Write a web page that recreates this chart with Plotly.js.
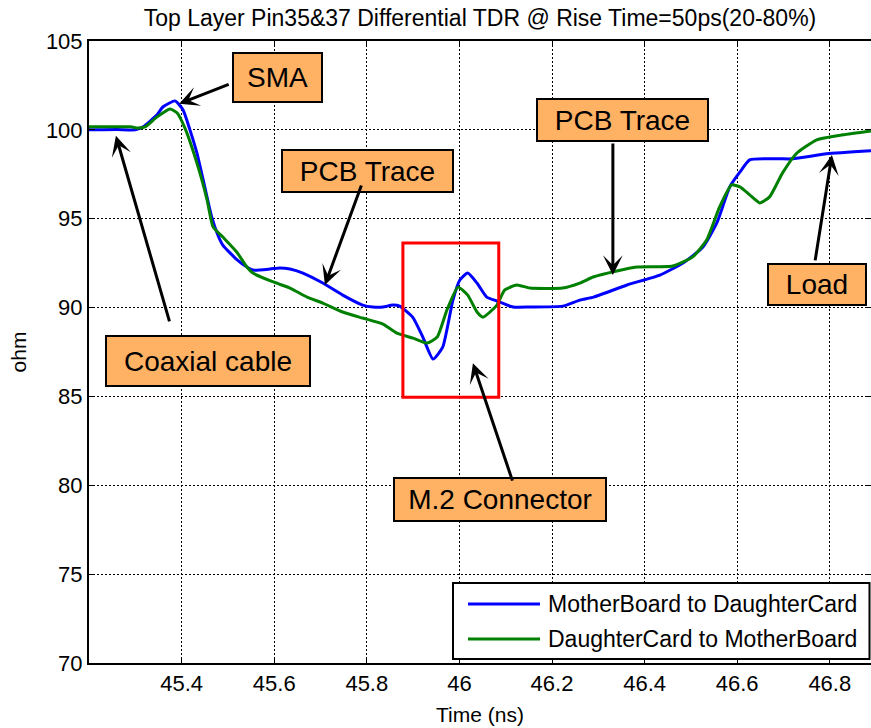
<!DOCTYPE html>
<html><head><meta charset="utf-8">
<script src="https://cdn.plot.ly/plotly-3.0.1.min.js"></script>
<style>html,body{margin:0;padding:0;background:#fff}#chart{width:871px;height:728px}</style>
</head><body><div id="chart"></div>
<script>
const chartTitle = 'Top Layer Pin35&37 Differential TDR @ Rise Time=50ps(20-80%)';
const xTitle = 'Time (ns)';
const yTitle = 'ohm';
const seriesNames = ['MotherBoard to DaughterCard', 'DaughterCard to MotherBoard'];
const seriesColors = ['#0000FF', '#008000'];

const mbTime = [45.200, 45.260, 45.300, 45.317, 45.347, 45.360, 45.386, 45.403, 45.418, 45.433, 45.450, 45.465, 45.478, 45.489, 45.520, 45.541, 45.554, 45.591, 45.612, 45.634, 45.662, 45.705, 45.748, 45.791, 45.813, 45.835, 45.856, 45.871, 45.899, 45.921, 45.943, 45.964, 45.986, 46.001, 46.018, 46.038, 46.059, 46.081, 46.116, 46.152, 46.223, 46.260, 46.290, 46.362, 46.433, 46.483, 46.526, 46.556, 46.584, 46.606, 46.627, 46.686, 46.720, 46.793, 46.889];
const mbOhm  = [100.00, 100.02, 100.00, 100.17, 100.85, 101.30, 101.63, 101.13, 100.00, 98.70, 96.79, 95.10, 94.10, 93.52, 92.68, 92.28, 92.11, 92.17, 92.23, 92.17, 91.94, 91.38, 90.70, 90.14, 90.03, 90.03, 90.14, 90.08, 89.46, 88.34, 87.10, 87.77, 90.42, 91.55, 91.94, 91.38, 90.59, 90.37, 90.03, 90.03, 90.08, 90.42, 90.59, 91.27, 91.83, 92.51, 93.41, 94.76, 96.79, 97.63, 98.31, 98.37, 98.37, 98.65, 98.82];

const dcTime = [45.200, 45.290, 45.305, 45.321, 45.347, 45.375, 45.390, 45.407, 45.433, 45.455, 45.468, 45.489, 45.519, 45.541, 45.554, 45.598, 45.634, 45.671, 45.705, 45.748, 45.791, 45.835, 45.865, 45.900, 45.930, 45.952, 45.973, 45.997, 46.018, 46.038, 46.051, 46.081, 46.098, 46.124, 46.152, 46.223, 46.260, 46.289, 46.340, 46.383, 46.461, 46.504, 46.534, 46.562, 46.588, 46.606, 46.627, 46.649, 46.670, 46.698, 46.729, 46.772, 46.828, 46.889];
const dcOhm  = [100.17, 100.17, 100.10, 100.17, 100.73, 101.18, 100.96, 100.11, 98.14, 96.06, 94.54, 93.97, 93.13, 92.28, 91.94, 91.44, 91.10, 90.59, 90.25, 89.75, 89.41, 89.07, 88.56, 88.28, 88.00, 88.34, 89.86, 91.15, 90.70, 89.75, 89.46, 90.14, 90.99, 91.27, 91.10, 91.10, 91.38, 91.72, 92.06, 92.28, 92.34, 92.85, 93.80, 95.66, 96.90, 96.79, 96.34, 95.89, 96.23, 97.58, 98.70, 99.44, 99.72, 99.94];

const xTickVals = [45.4, 45.6, 45.8, 46.0, 46.2, 46.4, 46.6, 46.8];
const xTickText = ['45.4', '45.6', '45.8', '46', '46.2', '46.4', '46.6', '46.8'];
const yTickVals = [70, 75, 80, 85, 90, 95, 100, 105];
const xRange = [45.2, 46.889];
const yRange = [70, 105];

// callout labels and what they point at (time, ohm)
const calloutLabels = ['SMA', 'PCB Trace', 'PCB Trace', 'Coaxial cable', 'M.2 Connector', 'Load'];
const calloutTargetTime = [45.3948, 45.7095, 46.3315, 45.2581, 46.0292, 46.8046];
const calloutTargetOhm  = [101.465, 91.268, 91.831, 99.662, 86.873, 98.592];
// connector region highlighted
const boxTime = [45.878, 46.085];
const boxOhm = [84.96, 93.63];

// ---- layout geometry (pixels) ----
const W = 871, H = 728, ML = 89, MR = 0, MT = 41, MB = 65;
const PW = W - ML - MR, PH = H - MT - MB;
const px = x => (x - ML) / PW;
const py = y => (H - MB - y) / PH;

// box pixel rects [x0,x1,y0,y1] for callouts
const calloutBoxes = [
  [232, 323, 52, 103],
  [281, 454, 149, 193],
  [536, 709, 98, 142],
  [105, 311, 335, 387],
  [393, 607, 477, 522],
  [767, 867, 263, 306]
];
// arrow tail offsets (pixels) from target
const arrowTail = [[51, -20], [37, -101], [0, -133], [54, 187], [40, 119], [-17, 107]];

const font = 'Liberation Sans, Arial, Helvetica, sans-serif';

const traces = [
  {x: mbTime, y: mbOhm, name: seriesNames[0], type: 'scatter', mode: 'lines',
   line: {color: seriesColors[0], width: 3, shape: 'spline', smoothing: 0.5}, showlegend: false},
  {x: dcTime, y: dcOhm, name: seriesNames[1], type: 'scatter', mode: 'lines',
   line: {color: seriesColors[1], width: 3, shape: 'spline', smoothing: 0.5}, showlegend: false}
];

const annotations = [];
const BW = 2;
calloutLabels.forEach((lab, i) => {
  const b = calloutBoxes[i];
  annotations.push({
    xref: 'paper', yref: 'paper',
    x: px((b[0] + b[1]) / 2), y: py((b[2] + b[3]) / 2),
    xanchor: 'center', yanchor: 'middle',
    text: lab, showarrow: false,
    width: b[1] - b[0] - 2 * BW, height: b[3] - b[2] - 2 * BW,
    bgcolor: '#FFB164', bordercolor: '#000', borderwidth: BW, borderpad: 0,
    font: {family: font, size: 28, color: '#000'}
  });
});
calloutLabels.forEach((lab, i) => {
  annotations.push({
    xref: 'x', yref: 'y', x: calloutTargetTime[i], y: calloutTargetOhm[i],
    text: '', showarrow: true, arrowhead: 3, arrowsize: 1.1, arrowwidth: 3,
    arrowcolor: '#000', ax: arrowTail[i][0], ay: arrowTail[i][1], standoff: 0
  });
});

// legend (manual, to match long line samples)
const legX0 = 453, legX1 = 869.5, legY0 = 583, legY1 = 659;
const legRows = [604, 639];
const shapes = [
  {type: 'rect', xref: 'x', yref: 'y', x0: boxTime[0], x1: boxTime[1], y0: boxOhm[0], y1: boxOhm[1],
   line: {color: '#FF0000', width: 3}},
  {type: 'rect', xref: 'paper', yref: 'paper', x0: px(legX0), x1: px(legX1), y0: py(legY1), y1: py(legY0),
   line: {color: '#000', width: 2}, fillcolor: '#fff', layer: 'above'}
];
seriesNames.forEach((nm, i) => {
  shapes.push({type: 'line', xref: 'paper', yref: 'paper', x0: px(468), x1: px(540), y0: py(legRows[i]), y1: py(legRows[i]),
    line: {color: seriesColors[i], width: 3}, layer: 'above'});
  annotations.push({xref: 'paper', yref: 'paper', x: px(546), y: py(legRows[i]), xanchor: 'left', yanchor: 'middle',
    text: nm, showarrow: false, font: {family: font, size: 23, color: '#000'}});
});

const axisCommon = {
  showline: true, linecolor: '#000', linewidth: 2, mirror: 'ticks',
  ticks: 'inside', ticklen: 6, tickwidth: 1, tickcolor: '#000',
  showgrid: true, gridcolor: '#000', gridwidth: 1, griddash: '2px,2px',
  zeroline: false, tickfont: {family: font, size: 22, color: '#000'}
};

const layout = {
  width: W, height: H,
  margin: {l: ML, r: MR, t: MT, b: MB, pad: 0},
  paper_bgcolor: '#fff', plot_bgcolor: '#fff',
  showlegend: false,
  font: {family: font, color: '#000'},
  title: {text: chartTitle, font: {family: font, size: 23, color: '#000'},
          xref: 'paper', x: 0.5, xanchor: 'center', yref: 'container', y: 1 - 18 / H, yanchor: 'middle'},
  xaxis: Object.assign({}, axisCommon, {
    range: xRange, tickmode: 'array', tickvals: xTickVals, ticktext: xTickText,
    title: {text: xTitle, font: {family: font, size: 21, color: '#000'}, standoff: 12}
  }),
  yaxis: Object.assign({}, axisCommon, {
    range: yRange, tickmode: 'array', tickvals: yTickVals,
    title: {text: yTitle, font: {family: font, size: 21, color: '#000'}, standoff: 14}
  }),
  annotations: annotations,
  shapes: shapes
};

Plotly.newPlot('chart', traces, layout, {displayModeBar: false, staticPlot: true});
</script>
</body></html>
